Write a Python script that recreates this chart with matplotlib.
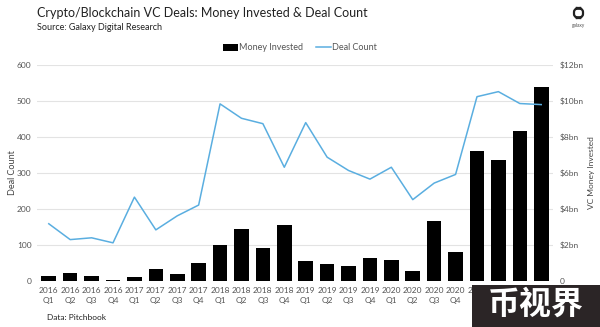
import matplotlib
matplotlib.use("Agg")
import matplotlib.pyplot as plt
from matplotlib.patches import Rectangle, FancyBboxPatch
import numpy as np

quarters = [f"{y}\nQ{q}" for y in range(2016, 2022) for q in range(1, 5)]
deal_count = [159, 115, 120, 106, 233, 142, 181, 211, 492, 452, 437, 316,
              440, 344, 307, 283, 316, 226, 272, 296, 512, 526, 493, 490]
money_bn = [0.28, 0.42, 0.28, 0.08, 0.20, 0.66, 0.40, 0.98, 2.02, 2.90, 1.86, 3.12,
            1.10, 0.94, 0.82, 1.28, 1.18, 0.54, 3.32, 1.62, 7.22, 6.70, 8.32, 10.76]
left_ticks = [0, 100, 200, 300, 400, 500, 600]
right_ticks = [0, 2, 4, 6, 8, 10, 12]
right_labels = ["0", "$2bn", "$4bn", "$6bn", "$8bn", "$10bn", "$12bn"]

plt.rcParams['font.family'] = ['Lato', 'DejaVu Sans']
W, H = 600, 327
fig = plt.figure(figsize=(W / 100, H / 100), dpi=100)
ax = fig.add_axes([37 / W, 1 - 281 / H, (553 - 37) / W, (281 - 65) / H])
ax2 = ax.twinx()
x = np.arange(len(quarters))

ax2.bar(x, money_bn, width=0.68, color='black', zorder=2, label='Money Invested')
ax.plot(x, deal_count, color='#5aaee0', lw=1.1, zorder=3, label='Deal Count')
ax.set_zorder(ax2.get_zorder() + 1)
ax.patch.set_visible(False)

ax.set_ylim(0, 600)
ax2.set_ylim(0, 12)
ax.set_xlim(-0.55, len(quarters) - 0.45)
ax.set_yticks(left_ticks)
ax2.set_yticks(right_ticks)
ax2.set_yticklabels(right_labels)
ax.set_xticks(x)
ax.set_xticklabels(quarters, linespacing=1.5)
for a in (ax, ax2):
    for s in a.spines.values():
        s.set_visible(False)
    a.tick_params(length=0, labelsize=6, colors='#555555')
ax.tick_params(axis='y', pad=4)
ax2.tick_params(axis='y', pad=5)
ax.tick_params(axis='x', pad=4)
ax.grid(False)
ax2.grid(False)
for t in left_ticks:
    ax2.axhline(t / 50, color='#e3e3e3', lw=0.8, zorder=0)

ax.set_ylabel("Deal Count", fontsize=6.5, color='#444444', labelpad=0)
ax2.set_ylabel("VC Money Invested", fontsize=6, color='#444444', labelpad=3)

h1, l1 = ax2.get_legend_handles_labels()
h2, l2 = ax.get_legend_handles_labels()
fig.legend(h1 + h2, l1 + l2, loc='center', bbox_to_anchor=(0.5, 1 - 48 / H), ncol=2,
           frameon=False, fontsize=6.5, handlelength=1.6, handletextpad=0.1,
           columnspacing=1.5, labelcolor='#555555')

fig.text(37 / W, 1 - 13 / H, "Crypto/Blockchain VC Deals: Money Invested & Deal Count",
         fontsize=9, ha='left', va='center', color='#222222')
fig.text(37 / W, 1 - 28 / H, "Source: Galaxy Digital Research", fontsize=6.5,
         ha='left', va='center', color='#222222')
fig.text(47 / W, 1 - 318 / H, "Data: Pitchbook", fontsize=6, ha='left', va='center',
         color='#222222')
# logo
fig.patches.append(FancyBboxPatch((574 / W, 1 - 18 / H), 9 / W, 10 / H,
                                  boxstyle='round,pad=0,rounding_size=0.012',
                                  transform=fig.transFigure, fc='none', ec='#222222', lw=1.6))
fig.text(578.5 / W, 1 - 25 / H, "galaxy", fontsize=3.5, ha='center', va='center',
         color='#555555')
# watermark
fig.patches.append(Rectangle((472 / W, 0), (600 - 472) / W, (327 - 285) / H,
                             transform=fig.transFigure, fc='#2b2526', ec='none', zorder=5))
fig.text(536 / W, 1 - 305 / H, "币视界", fontsize=23, fontweight='bold', ha='center',
         va='center', color='white', zorder=6,
         family=['Noto Sans CJK SC', 'DejaVu Sans'])

fig.savefig("out.png", dpi=100)
